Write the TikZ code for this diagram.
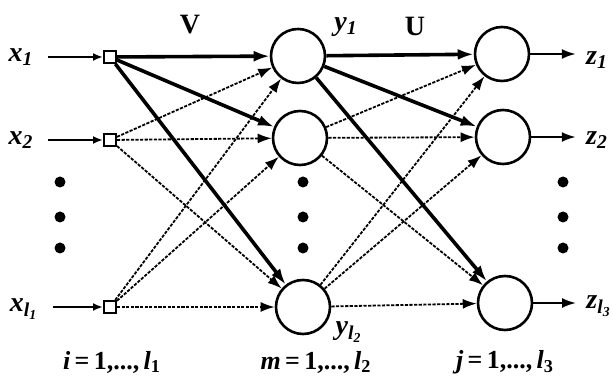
\documentclass[tikz,border=0pt]{standalone}
\usepackage{fontspec}
\setmainfont{Liberation Serif}
\usetikzlibrary{arrows.meta, positioning}

\newcommand{\lsub}[1]{\textsubscript{#1}}

\begin{document}
\begin{tikzpicture}[
    x=0.5pt, y=-0.5pt,
    lbl/.style={font=\fontsize{14}{16}\selectfont\bfseries\itshape, inner sep=1pt},
    rng/.style={font=\fontsize{13}{15}\selectfont\bfseries, inner sep=1pt},
    inbox/.style={draw, line width=1pt, minimum size=6pt, inner sep=0pt},
    neuron/.style={draw, circle, line width=1.3pt, minimum size=27pt, inner sep=0pt},
    feed/.style={-{Latex[length=5pt,width=4pt]}, line width=1pt},
    strong/.style={-{Latex[length=8pt,width=5.5pt]}, line width=1.8pt},
    weak/.style={-{Latex[length=7pt,width=5pt]}, line width=0.9pt, dash pattern=on 1.6pt off 0.7pt},
    dot/.style={circle, fill, inner sep=0pt, minimum size=5.5pt}
]
\useasboundingbox (0,0) rectangle (613,383);

% input layer
\node[lbl] (x1) at (21,57) {x\lsub{1}};
\node[lbl] (x2) at (21,140) {x\lsub{2}};
\node[lbl] (x3) at (24,309) {x\lsub{l\lsub{1}}};
\node[inbox] (b1) at (110,57) {};
\node[inbox] (b2) at (110,140) {};
\node[inbox] (b3) at (110,307) {};

% hidden layer
\node[neuron] (h1) at (298,56) {};
\node[neuron] (h2) at (300,138) {};
\node[neuron] (h3) at (303,307) {};

% output layer
\node[neuron] (o1) at (502,54) {};
\node[neuron] (o2) at (503,137) {};
\node[neuron] (o3) at (505,303) {};
\node[lbl] (z1) at (597,60) {z\lsub{1}};
\node[lbl] (z2) at (597,140) {z\lsub{2}};
\node[lbl] (z3) at (599,306) {z\lsub{l\lsub{3}}};

% dots
\foreach \px in {60,303,563}
  \foreach \py in {182,217,248}
    \node[dot] at (\px,\py) {};

% labels
\node[lbl, font=\fontsize{14}{16}\selectfont\bfseries] (V) at (190,25) {V};
\node[lbl, font=\fontsize{14}{16}\selectfont\bfseries] (U) at (415,26) {U};
\node[lbl] (y1) at (346,27) {y\lsub{1}};
\node[lbl] (y2) at (349,332) {y\lsub{l\lsub{2}}};
\node[rng] (ri) at (112,362) {\textit{i}\,=\,1,...,\,\textit{l}\lsub{1}};
\node[rng] (rm) at (316,362) {\textit{m}\,=\,1,...,\,\textit{l}\lsub{2}};
\node[rng] (rj) at (505,362) {\textit{j}\,=\,1,...,\,\textit{l}\lsub{3}};

\foreach \x/\y in {x1/b1, x2/b2, x3/b3}
  \draw[feed, shorten <=6pt] (\x.east |- \y) -- (\y);

\foreach \s in {h1,h2,h3}
  \draw[strong] (b1) -- (\s);
\foreach \x in {b2,b3}
  \foreach \s in {h1,h2,h3}
    \draw[weak] (\x) -- (\s);

\foreach \s in {o1,o2,o3}
  \draw[strong] (h1) -- (\s);
\foreach \x in {h2,h3}
  \foreach \s in {o1,o2,o3}
    \draw[weak] (\x) -- (\s);

\foreach \x/\y in {o1/z1, o2/z2, o3/z3}
  \draw[feed, -{Latex[length=7pt,width=5pt]}, shorten >=4pt] (\x) -- (\x -| \y.west);

\end{tikzpicture}
\end{document}
